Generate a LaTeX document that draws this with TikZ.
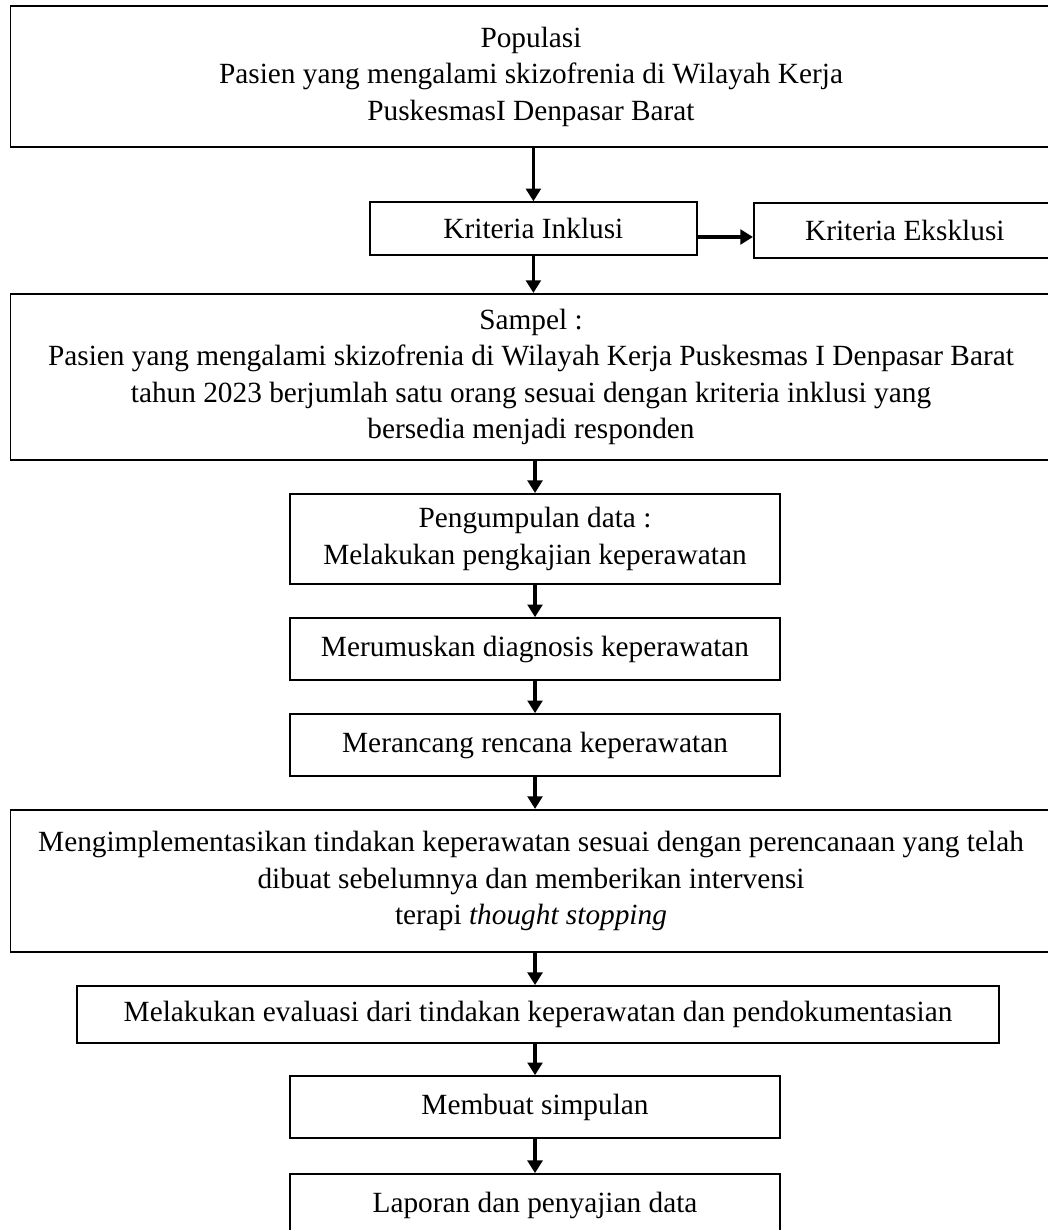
\documentclass[tikz,border=0pt]{standalone}
\usepackage{fontspec}
\setmainfont{Liberation Serif}
\usetikzlibrary{arrows.meta, positioning}

\begin{document}
\begin{tikzpicture}[
  tahap/.style={rectangle, draw, line width=0.9pt, align=center,
                minimum width=81.7mm, minimum height=10.3mm, inner sep=2pt,
                font=\fontsize{13.9}{17.3}\selectfont},
  lebar/.style={tahap, minimum width=173.5mm},
  arrow/.style={-{Triangle[width=7pt,length=6pt]}, line width=1.8pt},
]
\useasboundingbox (0,0) rectangle (17.45,-20.5);

% ---- populasi dan kriteria ----
\node[lebar, minimum height=23.5mm] (populasi) at (8.85,-1.275)
     {Populasi\\Pasien yang mengalami skizofrenia di Wilayah Kerja\\PuskesmasI Denpasar Barat};

\node[tahap, minimum width=54.5mm, minimum height=8.8mm] (inklusi) at (8.89,-3.81)
     {Kriteria Inklusi};
\node[tahap, minimum width=50.3mm, minimum height=9.2mm] (eksklusi) at (15.08,-3.84)
     {Kriteria Eksklusi};

% ---- sampel ----
\node[lebar, minimum height=27.7mm] (sampel) at (8.85,-6.283)
     {Sampel :\\Pasien yang mengalami skizofrenia di Wilayah Kerja Puskesmas I Denpasar Barat\\tahun 2023 berjumlah satu orang sesuai dengan kriteria inklusi yang\\bersedia menjadi responden};

% ---- proses keperawatan ----
\node[tahap, minimum height=15mm] (kumpul) at (8.917,-8.983)
     {Pengumpulan data :\\Melakukan pengkajian keperawatan};
\node[tahap] (diagnosis) at (8.917,-10.817) {Merumuskan diagnosis keperawatan};
\node[tahap] (rencana)   at (8.917,-12.417) {Merancang rencana keperawatan};

\node[lebar, minimum height=23.7mm] (implementasi) at (8.85,-14.683)
     {Mengimplementasikan tindakan keperawatan sesuai dengan perencanaan yang telah\\dibuat sebelumnya dan memberikan intervensi\\terapi \textit{thought stopping}};

\node[tahap, minimum width=153.7mm, minimum height=9.5mm] (evaluasi) at (8.967,-16.908)
     {Melakukan evaluasi dari tindakan keperawatan dan pendokumentasian};

% ---- hasil ----
\node[tahap] (simpulan) at (8.917,-18.45)  {Membuat simpulan};
\node[tahap] (laporan)  at (8.917,-20.083) {Laporan dan penyajian data};

% ---- panah ----
\draw[arrow] (populasi.south -| inklusi.north) -- (inklusi.north);
\draw[arrow] ([yshift=-1.4mm]inklusi.east) -- ([yshift=-1.4mm]inklusi.east -| eksklusi.west);
\draw[arrow] (inklusi.south) -- (inklusi.south |- sampel.north);
\draw[arrow] (sampel.south -| kumpul.north) -- (kumpul.north);
\draw[arrow] (kumpul.south)    -- (diagnosis.north);
\draw[arrow] (diagnosis.south) -- (rencana.north);
\draw[arrow] (rencana.south)   -- (rencana.south |- implementasi.north);
\draw[arrow] (implementasi.south -| simpulan.north) -- (simpulan.north |- evaluasi.north);
\draw[arrow] (evaluasi.south -| simpulan.north) -- (simpulan.north);
\draw[arrow] (simpulan.south)  -- (laporan.north);

\end{tikzpicture}
\end{document}
